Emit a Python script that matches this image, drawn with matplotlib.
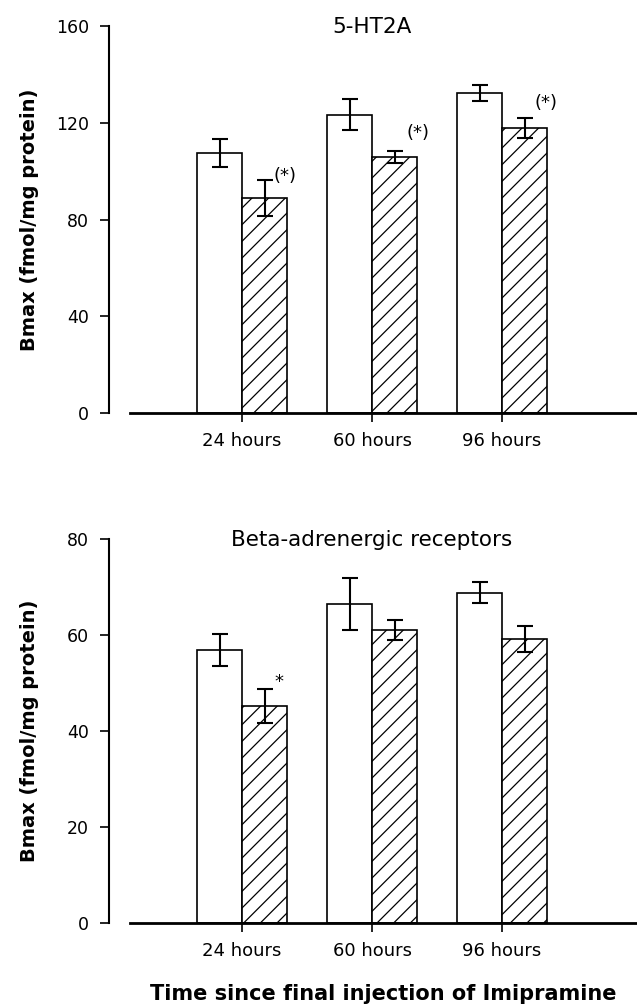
import matplotlib
matplotlib.use("Agg")
import matplotlib.pyplot as plt
import numpy as np

# Bmax values (fmol/mg protein): control (open bars) vs imipramine (hatched bars)
time_labels = ["24 hours", "60 hours", "96 hours"]

ht2a_control = [107.6, 123.4, 132.4]
ht2a_control_err = [5.8, 6.6, 3.3]
ht2a_imip = [89.0, 105.9, 117.8]
ht2a_imip_err = [7.5, 2.5, 4.1]
ht2a_marks = ["(*)", "(*)", "(*)"]

beta_control = [56.9, 66.5, 68.8]
beta_control_err = [3.3, 5.4, 2.2]
beta_imip = [45.2, 61.0, 59.2]
beta_imip_err = [3.5, 2.1, 2.65]
beta_marks = ["*", "", ""]

plt.rcParams["font.family"] = ["DejaVu Sans"]
plt.rcParams["hatch.linewidth"] = 0.9

W, H = 637, 1007
fig = plt.figure(figsize=(W / 100, H / 100), dpi=100)


def px_axes(left, top, right, bottom):
    return fig.add_axes([left / W, 1 - bottom / H, (right - left) / W, (bottom - top) / H])


def panel(ax, control, c_err, imip, i_err, marks, mark_dy, mark_dx, ymax, yticks):
    x = np.arange(len(time_labels))
    w = 0.346
    ax.bar(x - w, control, width=w, align="edge", color="white", edgecolor="black",
           linewidth=1.2, zorder=2)
    ax.bar(x, imip, width=w, align="edge", color="white", edgecolor="black",
           linewidth=1.2, hatch="//", zorder=2)
    ax.errorbar(x - w / 2, control, yerr=c_err, fmt="none", ecolor="black",
                elinewidth=1.5, capsize=6, capthick=1.5, zorder=3, clip_on=False)
    ax.errorbar(x + w / 2, imip, yerr=i_err, fmt="none", ecolor="black",
                elinewidth=1.5, capsize=6, capthick=1.5, zorder=3, clip_on=False)
    for xi, yi, ei, m, dy, dx in zip(x, imip, i_err, marks, mark_dy, mark_dx):
        if m:
            ax.text(xi + dx, yi + ei + dy, m, ha="center", va="center", fontsize=13)

    ax.set_xlim(-1.023, 3.038)
    ax.set_ylim(0, ymax)
    ax.set_xticks(x)
    ax.set_xticklabels(time_labels, fontsize=13)
    ax.set_yticks(yticks)
    ax.set_yticklabels([str(t) for t in yticks], fontsize=12.5)
    for s in ("top", "right", "bottom"):
        ax.spines[s].set_visible(False)
    ax.spines["left"].set_linewidth(1.5)
    ax.tick_params(axis="y", length=6.5, width=1.2, pad=8)
    ax.tick_params(axis="x", length=6.5, width=1.2, pad=7, direction="out")
    ax.axhline(0, xmin=21 / 528, xmax=1, color="black", linewidth=2.0, zorder=4,
               clip_on=False)
    ax.set_facecolor("none")


ax1 = px_axes(109, 26, 637, 413)
panel(ax1, ht2a_control, ht2a_control_err, ht2a_imip, ht2a_imip_err, ht2a_marks,
      [1.5, 7.3, 6.2], [0.33, 0.35, 0.34], 160, [0, 40, 80, 120, 160])

ax2 = px_axes(109, 539, 637, 923)
panel(ax2, beta_control, beta_control_err, beta_imip, beta_imip_err, beta_marks,
      [1.6, 0, 0], [0.285, 0, 0], 80, [0, 20, 40, 60, 80])

fig.text(372 / W, 1 - 27 / H, "5-HT2A", ha="center", va="center", fontsize=15.5)
fig.text(372 / W, 1 - 540 / H, "Beta-adrenergic receptors", ha="center", va="center",
         fontsize=15.5)

ylabel = "Bmax (fmol/mg protein)"
fig.text(30 / W, 1 - 220 / H, ylabel, rotation=90, ha="center", va="center",
         fontsize=14, fontweight="bold")
fig.text(30 / W, 1 - 731 / H, ylabel, rotation=90, ha="center", va="center",
         fontsize=14, fontweight="bold")

fig.text(383 / W, 1 - 994 / H, "Time since final injection of Imipramine",
         ha="center", va="center", fontsize=15, fontweight="bold")

fig.savefig("out.png", dpi=100, facecolor="white")
